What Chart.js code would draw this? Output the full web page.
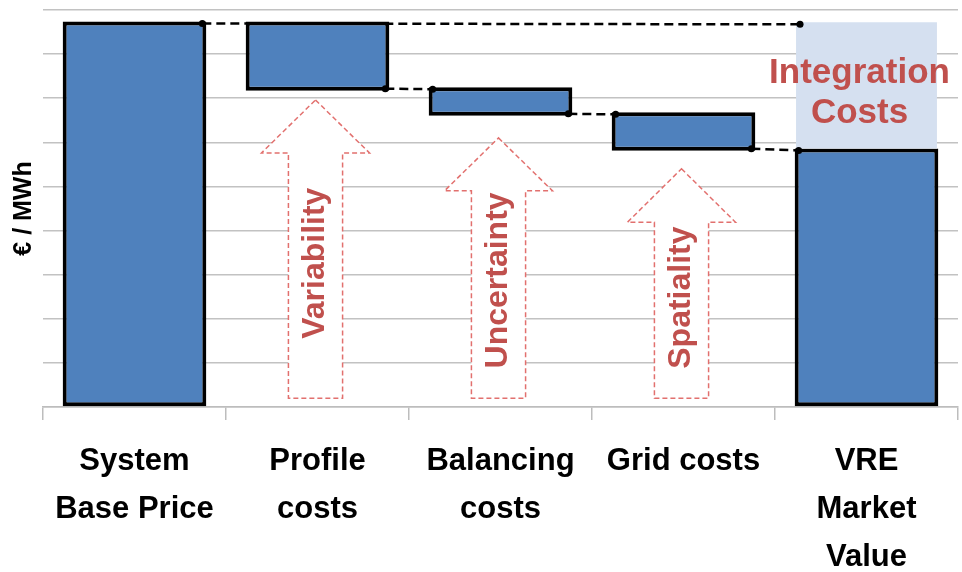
<!DOCTYPE html>
<html><head><meta charset="utf-8">
<script src="https://cdn.jsdelivr.net/npm/chart.js@4.4.1/dist/chart.umd.min.js"></script>
<style>html,body{margin:0;padding:0;background:#fff;}</style>
</head><body>
<canvas id="c" width="962" height="572"></canvas>
<script>
// ---- data ----
const categories = [["System","Base Price"],["Profile","costs"],["Balancing","costs"],["Grid costs"],["VRE","Market","Value"]];
const barLow  = [0, 7.17, 6.60, 5.81, 0];
const barHigh = [8.74, 8.74, 7.25, 6.68, 5.86];
const integrationLow  = [null, null, null, null, 5.86];
const integrationHigh = [null, null, null, null, 8.72];
const integrationLabel = ["Integration", "Costs"];
const arrowCategory = [1, 2, 3];
const arrowTip  = [6.96, 6.10, 5.40];
const arrowNeck = [5.76, 4.90, 4.19];
const arrowFoot = [0.2, 0.2, 0.2];
const arrowLabels = ["Variability", "Uncertainty", "Spatiality"];
const arrowLabelCenter = [3.26, 2.87, 2.48];
const yMin = 0, yMax = 9, yStep = 1;
const yAxisTitle = "€ / MWh";
// connectors: [fromIndex, fromEdge] -> [toIndex, toEdge]
const connectorFrom = [[0,"high"],[1,"low"],[2,"low"],[3,"low"]];
const connectorTo   = [[4,"box"],[2,"high"],[3,"high"],[4,"high"]];

// ---- style ----
const RED = "rgb(192,80,77)";
const ARROW_RED = "rgb(226,112,110)";
const BAR_BLUE = "#4F81BD";
const BORDER_W = 4;
const FONT = "'Liberation Sans', Arial, sans-serif";

const deco = {
  id: "deco",
  beforeDatasetsDraw(chart) {
    const ctx = chart.ctx, xs = chart.scales.x, ys = chart.scales.y;
    const cw = xs.width / categories.length;
    const hw = cw * 0.295, sw = cw * 0.148;
    ctx.save();
    for (let i = 0; i < arrowCategory.length; i++) {
      const cx = xs.getPixelForValue(arrowCategory[i]) - 2;
      const tip = ys.getPixelForValue(arrowTip[i]);
      const neck = ys.getPixelForValue(arrowNeck[i]);
      const foot = ys.getPixelForValue(arrowFoot[i]);
      ctx.beginPath();
      ctx.moveTo(cx, tip);
      ctx.lineTo(cx + hw, neck);
      ctx.lineTo(cx + sw, neck);
      ctx.lineTo(cx + sw, foot);
      ctx.lineTo(cx - sw, foot);
      ctx.lineTo(cx - sw, neck);
      ctx.lineTo(cx - hw, neck);
      ctx.closePath();
      ctx.fillStyle = "#fff";
      ctx.fill();
      ctx.setLineDash([5, 3]);
      ctx.lineWidth = 1.5;
      ctx.strokeStyle = ARROW_RED;
      ctx.stroke();
      ctx.setLineDash([]);
      ctx.save();
      ctx.translate(cx, ys.getPixelForValue(arrowLabelCenter[i]));
      ctx.rotate(-Math.PI / 2);
      ctx.font = "bold 32px " + FONT;
      ctx.fillStyle = RED;
      ctx.textAlign = "center";
      ctx.textBaseline = "middle";
      ctx.fillText(arrowLabels[i], 0, 0);
      ctx.restore();
    }
    ctx.restore();
  },
  afterDatasetsDraw(chart) {
    const ctx = chart.ctx;
    const bars = chart.getDatasetMeta(1).data;
    const boxes = chart.getDatasetMeta(0).data;
    const inX = 4, inY = BORDER_W / 2;
    function pt(ref, side) {
      const [idx, edge] = ref;
      const el = edge === "box" ? boxes[idx] : bars[idx];
      const left = el.x - el.width / 2, right = el.x + el.width / 2;
      const x = side === "from" ? right - inX : left + inX;
      let y;
      if (edge === "low") y = el.base - inY;
      else y = el.y + inY;
      return [x, y];
    }
    ctx.save();
    for (let i = 0; i < connectorFrom.length; i++) {
      const a = pt(connectorFrom[i], "from");
      const b = pt(connectorTo[i], "to");
      ctx.beginPath();
      ctx.setLineDash([9, 5]);
      ctx.lineWidth = 2.5;
      ctx.strokeStyle = "#000";
      ctx.moveTo(a[0], a[1]);
      ctx.lineTo(b[0], b[1]);
      ctx.stroke();
      ctx.setLineDash([]);
      for (const p of [a, b]) {
        ctx.beginPath();
        ctx.arc(p[0], p[1], 3.5, 0, Math.PI * 2);
        ctx.fillStyle = "#000";
        ctx.fill();
      }
    }
    // Integration Costs label
    const box = boxes[4];
    const cy = (box.y + box.base) / 2;
    ctx.font = "bold 35px " + FONT;
    ctx.fillStyle = RED;
    ctx.textAlign = "center";
    ctx.textBaseline = "alphabetic";
    ctx.fillText(integrationLabel[0], box.x - 7, cy - 2);
    ctx.fillText(integrationLabel[1], box.x - 7, cy + 38);
    ctx.restore();
  }
};

new Chart(document.getElementById("c"), {
  type: "bar",
  data: {
    labels: categories,
    datasets: [
      {
        label: "Integration Costs",
        data: integrationLow.map((v, i) => v === null ? null : [v, integrationHigh[i]]),
        backgroundColor: "rgb(213,224,240)",
        borderWidth: 0,
        grouped: false,
        barPercentage: 0.77,
        categoryPercentage: 1
      },
      {
        label: "€ / MWh",
        data: barLow.map((v, i) => [v, barHigh[i]]),
        backgroundColor: BAR_BLUE,
        borderColor: "#000",
        borderWidth: BORDER_W,
        borderSkipped: false,
        grouped: false,
        barPercentage: 0.785,
        categoryPercentage: 1
      }
    ]
  },
  options: {
    responsive: false,
    animation: false,
    devicePixelRatio: 1,
    layout: { padding: { top: 10, right: 4, left: 0, bottom: 0 } },
    plugins: { legend: { display: false }, tooltip: { enabled: false } },
    scales: {
      x: {
        grid: { offset: true, drawOnChartArea: false, drawTicks: true, tickLength: 13, color: "#bdbdbd", lineWidth: 1.5 },
        border: { display: true, color: "#bdbdbd", width: 1.5 },
        ticks: {
          color: "#000",
          padding: 17,
          maxRotation: 0,
          autoSkip: false,
          font: { family: FONT, size: 31, weight: "bold", lineHeight: "48px" }
        },
        afterFit(scale) { scale.height = 165; }
      },
      y: {
        min: yMin, max: yMax,
        ticks: { display: false, stepSize: yStep },
        grid: { color: "#c2c2c2", lineWidth: 1.5, drawTicks: false },
        border: { display: false },
        title: {
          display: true, text: yAxisTitle, color: "#000",
          font: { family: FONT, size: 25, weight: "bold" },
          padding: { top: 9, bottom: 0 }
        },
        afterFit(scale) { scale.width = 43; }
      }
    }
  },
  plugins: [deco]
});
</script>
</body></html>
